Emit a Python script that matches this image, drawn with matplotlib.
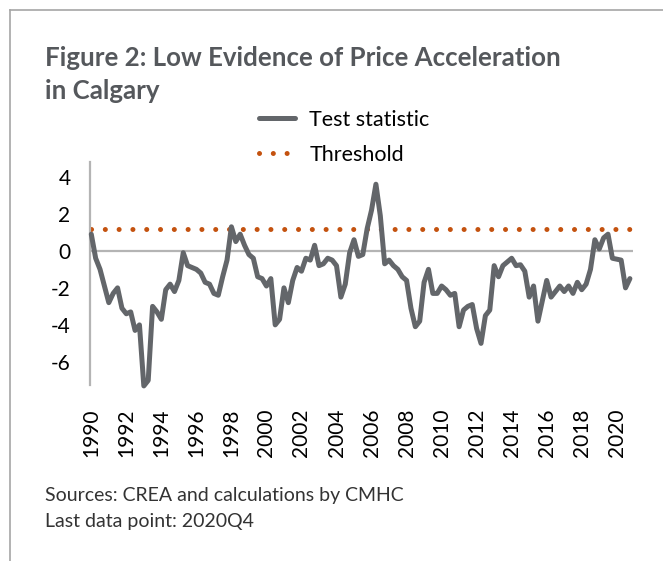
import matplotlib
matplotlib.use("Agg")
import matplotlib.pyplot as plt
from matplotlib.lines import Line2D

plt.rcParams['font.family'] = ['Lato', 'DejaVu Sans']
plt.rcParams['axes.unicode_minus'] = False

# quarterly test statistic, 1990Q1 .. 2020Q4
test_stat = [
     0.9, -0.4, -1.0, -1.9, -2.8, -2.3, -2.0, -3.1,
    -3.4, -3.3, -4.3, -4.0, -7.3, -7.0, -3.0, -3.3,
    -3.7, -2.1, -1.8, -2.2, -1.6, -0.1, -0.8, -0.9,
    -1.0, -1.2, -1.7, -1.8, -2.3, -2.4, -1.4, -0.5,
     1.3,  0.5,  0.9,  0.3, -0.2, -0.4, -1.4, -1.5,
    -1.9, -1.5, -4.0, -3.7, -2.0, -2.8, -1.6, -0.9,
    -1.1, -0.4, -0.5,  0.3, -0.8, -0.7, -0.4, -0.5,
    -0.8, -2.5, -1.8, -0.1,  0.6, -0.3, -0.2,  1.2,
     2.2,  3.6,  1.9, -0.7, -0.5, -0.8, -1.0, -1.4,
    -1.6, -3.1, -4.1, -3.8, -1.7, -1.0, -2.3, -2.3,
    -1.9, -2.1, -2.4, -2.3, -4.1, -3.2, -3.0, -2.9,
    -4.2, -5.0, -3.5, -3.2, -0.8, -1.4, -0.8, -0.6,
    -0.4, -0.8, -0.75, -1.1, -2.5, -1.9, -3.8, -2.7,
    -1.6, -2.5, -2.2, -1.9, -2.2, -1.9, -2.3, -1.7,
    -2.1, -1.8, -1.0,  0.6,  0.1,  0.7,  0.9, -0.4,
    -0.45, -0.5, -2.0, -1.5,
]
threshold = 1.2
years = list(range(1990, 2021, 2))

quarters = list(range(len(test_stat)))
tick_pos = [(y - 1990) * 4 for y in years]

fig = plt.figure(figsize=(6.63, 5.61), dpi=100)
ax = fig.add_axes([0.1357, 0.3137, 0.819, 0.3975])

ax.plot(quarters, test_stat, color='#63666A', lw=3.6, solid_joinstyle='round',
        solid_capstyle='round', label='Test statistic', clip_on=False, zorder=3)
ax.plot([quarters[0], quarters[-1]], [threshold, threshold], color='#C4520F',
        lw=3.6, linestyle=(0, (0.01, 2.75)), dash_capstyle='round',
        label='Threshold', zorder=2)
ax.axhline(0, color='#B4B4B4', lw=1.6, zorder=1)

ax.set_xlim(-0.3, 123.7)
ax.set_ylim(-7.25, 4.8)
ax.set_yticks([-6, -4, -2, 0, 2, 4])
ax.set_xticks(tick_pos)
ax.set_xticklabels([str(y) for y in years], rotation=90)
ax.tick_params(axis='both', length=0, labelsize=15, colors='black')
ax.tick_params(axis='x', pad=17)
ax.tick_params(axis='y', pad=14)

for s in ['top', 'right', 'bottom']:
    ax.spines[s].set_visible(False)
ax.spines['left'].set_color('#B4B4B4')
ax.spines['left'].set_linewidth(1.6)

fig.legend(loc='upper left', bbox_to_anchor=(250 / 663, 1 - 101 / 561),
           frameon=False, fontsize=15.5, handlelength=1.7, handletextpad=0.65,
           labelspacing=0.7, borderaxespad=0)

fig.text(45 / 663, 1 - 58 / 561, 'Figure 2: Low Evidence of Price Acceleration',
         fontsize=18.6, fontweight='bold', color='#55585C', va='center')
fig.text(45 / 663, 1 - 91 / 561, 'in Calgary',
         fontsize=18.6, fontweight='bold', color='#55585C', va='center')
fig.text(45 / 663, 1 - 495 / 561, 'Sources: CREA and calculations by CMHC',
         fontsize=14, color='#333333', va='center')
fig.text(45 / 663, 1 - 521 / 561, 'Last data point: 2020Q4',
         fontsize=14, color='#333333', va='center')

# thin frame at top and left
fig.add_artist(Line2D([10 / 663, 1], [1 - 10 / 561, 1 - 10 / 561],
                      transform=fig.transFigure, color='#A6A6A6', lw=1.2))
fig.add_artist(Line2D([10 / 663, 10 / 663], [0, 1 - 10 / 561],
                      transform=fig.transFigure, color='#A6A6A6', lw=1.2))

fig.savefig('out.png', dpi=100)
